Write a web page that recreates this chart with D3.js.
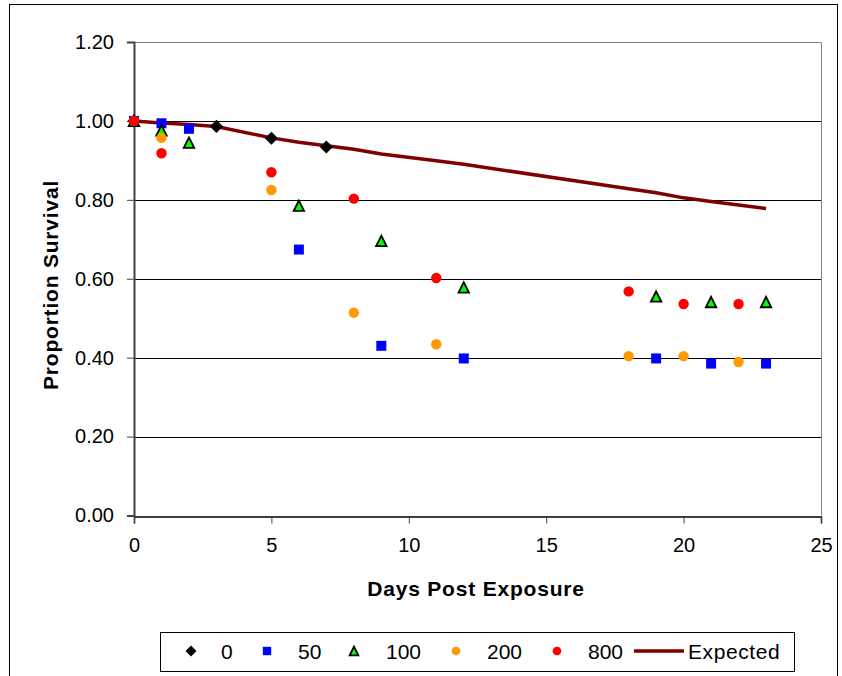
<!DOCTYPE html>
<html lang="en">
<head>
<meta charset="UTF-8">
<title>Proportion Survival</title>
<style>
  body { margin: 0; background: #fff; }
  text { font-family: "Liberation Sans", Arial, sans-serif; }
</style>
</head>
<body>
<svg width="842" height="676"></svg>
<script src="https://d3js.org/d3.v7.min.js"></script>
<script>
// series data: days and proportion survival
var days0 = [0, 3, 5, 7];
var surv0 = [1.00, 0.986, 0.956, 0.934];

var days50 = [0, 1, 2, 6, 9, 12, 19, 21, 23];
var surv50 = [1.00, 0.994, 0.980, 0.674, 0.430, 0.398, 0.398, 0.385, 0.385];

var days100 = [0, 1, 2, 6, 9, 12, 19, 21, 23];
var surv100 = [1.00, 0.976, 0.945, 0.785, 0.696, 0.578, 0.555, 0.541, 0.541];

var days200 = [0, 1, 5, 8, 11, 18, 20, 22];
var surv200 = [1.00, 0.957, 0.825, 0.514, 0.434, 0.404, 0.404, 0.389];

var days800 = [0, 1, 5, 8, 11, 18, 20, 22];
var surv800 = [1.00, 0.918, 0.870, 0.803, 0.602, 0.568, 0.536, 0.536];

var daysExp = [0, 1, 2, 3, 5, 6, 7, 8, 9, 11, 12, 18, 19, 20, 21, 22, 23];
var survExp = [1.00, 0.995, 0.991, 0.986, 0.957, 0.946, 0.937, 0.928, 0.916, 0.899, 0.890, 0.828, 0.818, 0.805, 0.796, 0.787, 0.778];

var xTicks = [0, 5, 10, 15, 20, 25];
var yTicks = [0, 0.2, 0.4, 0.6, 0.8, 1.0, 1.2];

var legendLabels = ["0", "50", "100", "200", "800", "Expected"];

var svg = d3.select("svg");

// outer frame
svg.append("rect")
  .attr("x", 9.5).attr("y", 4.5)
  .attr("width", 828).attr("height", 700)
  .attr("fill", "none").attr("stroke", "#000").attr("stroke-width", 1);

var pLeft = 134, pRight = 821, pTop = 42, pBottom = 515.5;

var x = d3.scaleLinear().domain([0, 25]).range([pLeft, pRight]);
var y = d3.scaleLinear().domain([0, 1.2]).range([pBottom, pTop]);

// gridlines
svg.append("g")
  .selectAll("line")
  .data(yTicks.filter(d => d > 0 && d < 1.2))
  .enter().append("line")
  .attr("x1", pLeft).attr("x2", pRight)
  .attr("y1", d => Math.round(y(d)) + 0.5)
  .attr("y2", d => Math.round(y(d)) + 0.5)
  .attr("stroke", "#000").attr("stroke-width", 1);

// plot border top/right
svg.append("path")
  .attr("d", `M${pLeft},${Math.round(pTop) + 0.5} H${pRight + 0.5} V${pBottom}`)
  .attr("fill", "none").attr("stroke", "#808080").attr("stroke-width", 1);

// axes
var xAxis = d3.axisBottom(x).tickValues(xTicks).tickSize(7).tickPadding(14).tickFormat(d3.format("d"));
var yAxis = d3.axisLeft(y).tickValues(yTicks).tickSize(7).tickPadding(13).tickFormat(d3.format(".2f"));

var gx = svg.append("g").attr("transform", `translate(0,${Math.round(pBottom) + 0.5})`).call(xAxis);
var gy = svg.append("g").attr("transform", `translate(${pLeft},0)`).call(yAxis);

[gx, gy].forEach(function(g) {
  g.select(".domain").attr("stroke", "#404040").attr("stroke-width", 2);
  g.selectAll(".tick line").attr("stroke", "#404040");
  g.selectAll(".tick text").attr("font-size", 20).attr("fill", "#000")
    .style("font-family", "'Liberation Sans', Arial, sans-serif");
});
gx.select(".domain").attr("stroke", "#000").attr("stroke-width", 1.5);

// axis titles
svg.append("text")
  .attr("x", 476).attr("y", 596)
  .attr("text-anchor", "middle")
  .attr("font-size", 21).attr("font-weight", "bold")
  .attr("letter-spacing", 0.8)
  .text("Days Post Exposure");

svg.append("text")
  .attr("transform", "translate(58,285) rotate(-90)")
  .attr("text-anchor", "middle")
  .attr("font-size", 21).attr("font-weight", "bold")
  .attr("letter-spacing", 0.8)
  .text("Proportion Survival");

// expected line
var line = d3.line().x(d => x(d[0])).y(d => y(d[1]));
svg.append("path")
  .datum(d3.zip(daysExp, survExp))
  .attr("d", line)
  .attr("fill", "none").attr("stroke", "#800000").attr("stroke-width", 3.5);

// marker drawing helpers
function marker(g, type, size) {
  if (type === "diamond") {
    return g.append("path").attr("d", d3.symbol().type(d3.symbolDiamond2).size(size)())
      .attr("fill", "#000");
  } else if (type === "square") {
    return g.append("path").attr("d", d3.symbol().type(d3.symbolSquare).size(size)())
      .attr("fill", "#0000ff");
  } else if (type === "triangle") {
    var h = Math.sqrt(size) * 1.1;
    return g.append("path")
      .attr("d", `M0,${-h / 2} L${h / 2},${h / 2} L${-h / 2},${h / 2} Z`)
      .attr("fill", "#00ff00").attr("stroke", "#000").attr("stroke-width", 1.8)
      .attr("stroke-linejoin", "miter");
  } else {
    return g.append("circle").attr("r", Math.sqrt(size / Math.PI));
  }
}

var series = [
  { days: days0, vals: surv0, type: "diamond", size: 110, color: "#000" },
  { days: days50, vals: surv50, type: "square", size: 100, color: "#0000ff" },
  { days: days100, vals: surv100, type: "triangle", size: 90, color: "#00ff00" },
  { days: days200, vals: surv200, type: "circle", size: 85, color: "#ff9900" },
  { days: days800, vals: surv800, type: "circle", size: 85, color: "#ff0000" }
];

series.forEach(function(s) {
  var g = svg.append("g");
  d3.zip(s.days, s.vals).forEach(function(p) {
    var m = g.append("g").attr("transform", `translate(${x(p[0])},${y(p[1])})`);
    var el = marker(m, s.type, s.size);
    if (s.type === "circle") el.attr("fill", s.color);
  });
});

// legend
var lg = svg.append("g");
lg.append("rect")
  .attr("x", 160.5).attr("y", 632.5)
  .attr("width", 634).attr("height", 39)
  .attr("fill", "#fff").attr("stroke", "#000").attr("stroke-width", 1);

var legendPos = [
  { mx: 191, tx: 221 },
  { mx: 267, tx: 298 },
  { mx: 354, tx: 386 },
  { mx: 456, tx: 487 },
  { mx: 557, tx: 588 },
  { mx: 658, tx: 688 }
];

legendLabels.forEach(function(lab, i) {
  var cy = 651;
  var p = legendPos[i];
  if (i < 5) {
    var s = series[i];
    var m = lg.append("g").attr("transform", `translate(${p.mx},${cy})`);
    var el = marker(m, s.type, s.size * 0.7);
    if (s.type === "circle") el.attr("fill", s.color);
  } else {
    lg.append("line")
      .attr("x1", 634).attr("x2", 684)
      .attr("y1", cy).attr("y2", cy)
      .attr("stroke", "#800000").attr("stroke-width", 3.5);
  }
  lg.append("text")
    .attr("x", p.tx).attr("y", cy + 8)
    .attr("font-size", 21)
    .attr("letter-spacing", i === 5 ? 0.6 : 0)
    .text(lab);
});
</script>
</body>
</html>
